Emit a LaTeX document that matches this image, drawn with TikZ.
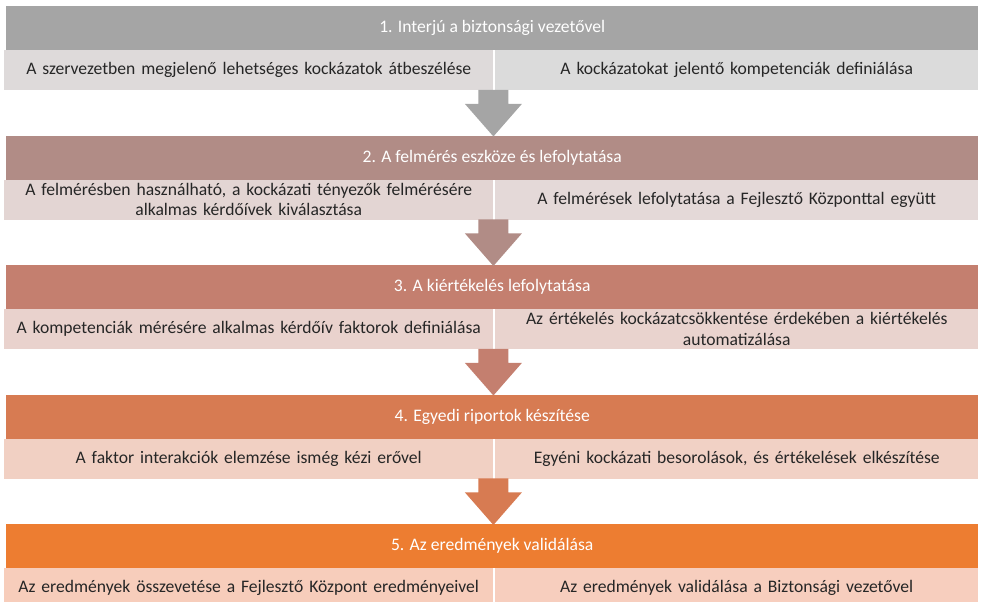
\documentclass[tikz,border=0pt]{standalone}
\usepackage{fontspec}
\setmainfont{Carlito}
\usetikzlibrary{calc}
\definecolor{hA}{HTML}{A5A5A5}\definecolor{sAl}{HTML}{DEDADA}\definecolor{sAr}{HTML}{DBDBDB}
\definecolor{hB}{HTML}{B18C86}\definecolor{sBl}{HTML}{E3D5D3}\definecolor{sBr}{HTML}{E4D9D8}
\definecolor{hC}{HTML}{C47F6F}\definecolor{sCl}{HTML}{E9D2CD}\definecolor{sCr}{HTML}{E9D3CE}
\definecolor{hD}{HTML}{D77B52}\definecolor{sDl}{HTML}{F1D0C3}\definecolor{sDr}{HTML}{F1D1C5}
\definecolor{hE}{HTML}{ED7D31}\definecolor{sEl}{HTML}{F7CDBB}\definecolor{sEr}{HTML}{F7CEBE}
\definecolor{txt}{HTML}{262626}
\tikzset{
  hdr/.style={fill=#1, anchor=north west, minimum width=972pt, minimum height=44pt, inner sep=0pt,
    text=white, font=\fontsize{17.6pt}{21pt}\selectfont},
  cellL/.style={fill=#1, anchor=north west, minimum width=489pt, minimum height=40pt, inner sep=0pt,
    text width=480pt, align=center, text=txt, font=\fontsize{17.6pt}{20.5pt}\selectfont},
  cellR/.style={fill=#1, anchor=north west, minimum width=483pt, minimum height=40pt, inner sep=0pt,
    text width=480pt, align=center, text=txt, font=\fontsize{17.6pt}{20.5pt}\selectfont},
}
\newcommand{\flowarr}[3]{% from-sub-node, to-header-node, colour
  \coordinate (a#1) at ($(#1.south east)+(0,-0.5)$);
  \coordinate (t#1) at (a#1 |- #2.north);
  \fill[#3] ($(a#1)+(-15,0)$) -- ($(a#1)+(15,0)$) -- ($(a#1)+(15,14)$) -- ($(a#1)+(28.5,14)$)
    -- ($(t#1)+(0,1)$) -- ($(a#1)+(-28.5,14)$) -- ($(a#1)+(-15,14)$) -- cycle;}
\begin{document}
\begin{tikzpicture}[x=1pt,y=-1pt]
\useasboundingbox (0,0) rectangle (982,602);
% block 1
\node[hdr=hA] (h1) at (6,6) {1. Interjú a biztonsági vezetővel};
\node[cellL=sAl] (l1) at (4,50) {A szervezetben megjelenő lehetséges kockázatok átbeszélése};
\node[cellR=sAr] (r1) at (495,50) {A kockázatokat jelentő kompetenciák definiálása};
% block 2
\node[hdr=hB] (h2) at (6,135.5) {2. A felmérés eszköze és lefolytatása};
\node[cellL=sBl] (l2) at (4,179.5) {A felmérésben használható, a kockázati tényezők felmérésére\\alkalmas kérdőívek kiválasztása};
\node[cellR=sBr] (r2) at (495,179.5) {A felmérések lefolytatása a Fejlesztő Központtal együtt};
% block 3
\node[hdr=hC] (h3) at (6,265) {3. A kiértékelés lefolytatása};
\node[cellL=sCl] (l3) at (4,309) {A kompetenciák mérésére alkalmas kérdőív faktorok definiálása};
\node[cellR=sCr] (r3) at (495,309) {Az értékelés kockázatcsökkentése érdekében a kiértékelés\\automatizálása};
% block 4
\node[hdr=hD] (h4) at (6,394.5) {4. Egyedi riportok készítése};
\node[cellL=sDl] (l4) at (4,438.5) {A faktor interakciók elemzése ismég kézi erővel};
\node[cellR=sDr] (r4) at (495,438.5) {Egyéni kockázati besorolások, és értékelések elkészítése};
% block 5
\node[hdr=hE] (h5) at (6,524) {5. Az eredmények validálása};
\node[cellL=sEl] (l5) at (4,568) {Az eredmények összevetése a Fejlesztő Központ eredményeivel};
\node[cellR=sEr] (r5) at (495,568) {Az eredmények validálása a Biztonsági vezetővel};
% arrows
\flowarr{l1}{h2}{hA}
\flowarr{l2}{h3}{hB}
\flowarr{l3}{h4}{hC}
\flowarr{l4}{h5}{hD}
\end{tikzpicture}
\end{document}
